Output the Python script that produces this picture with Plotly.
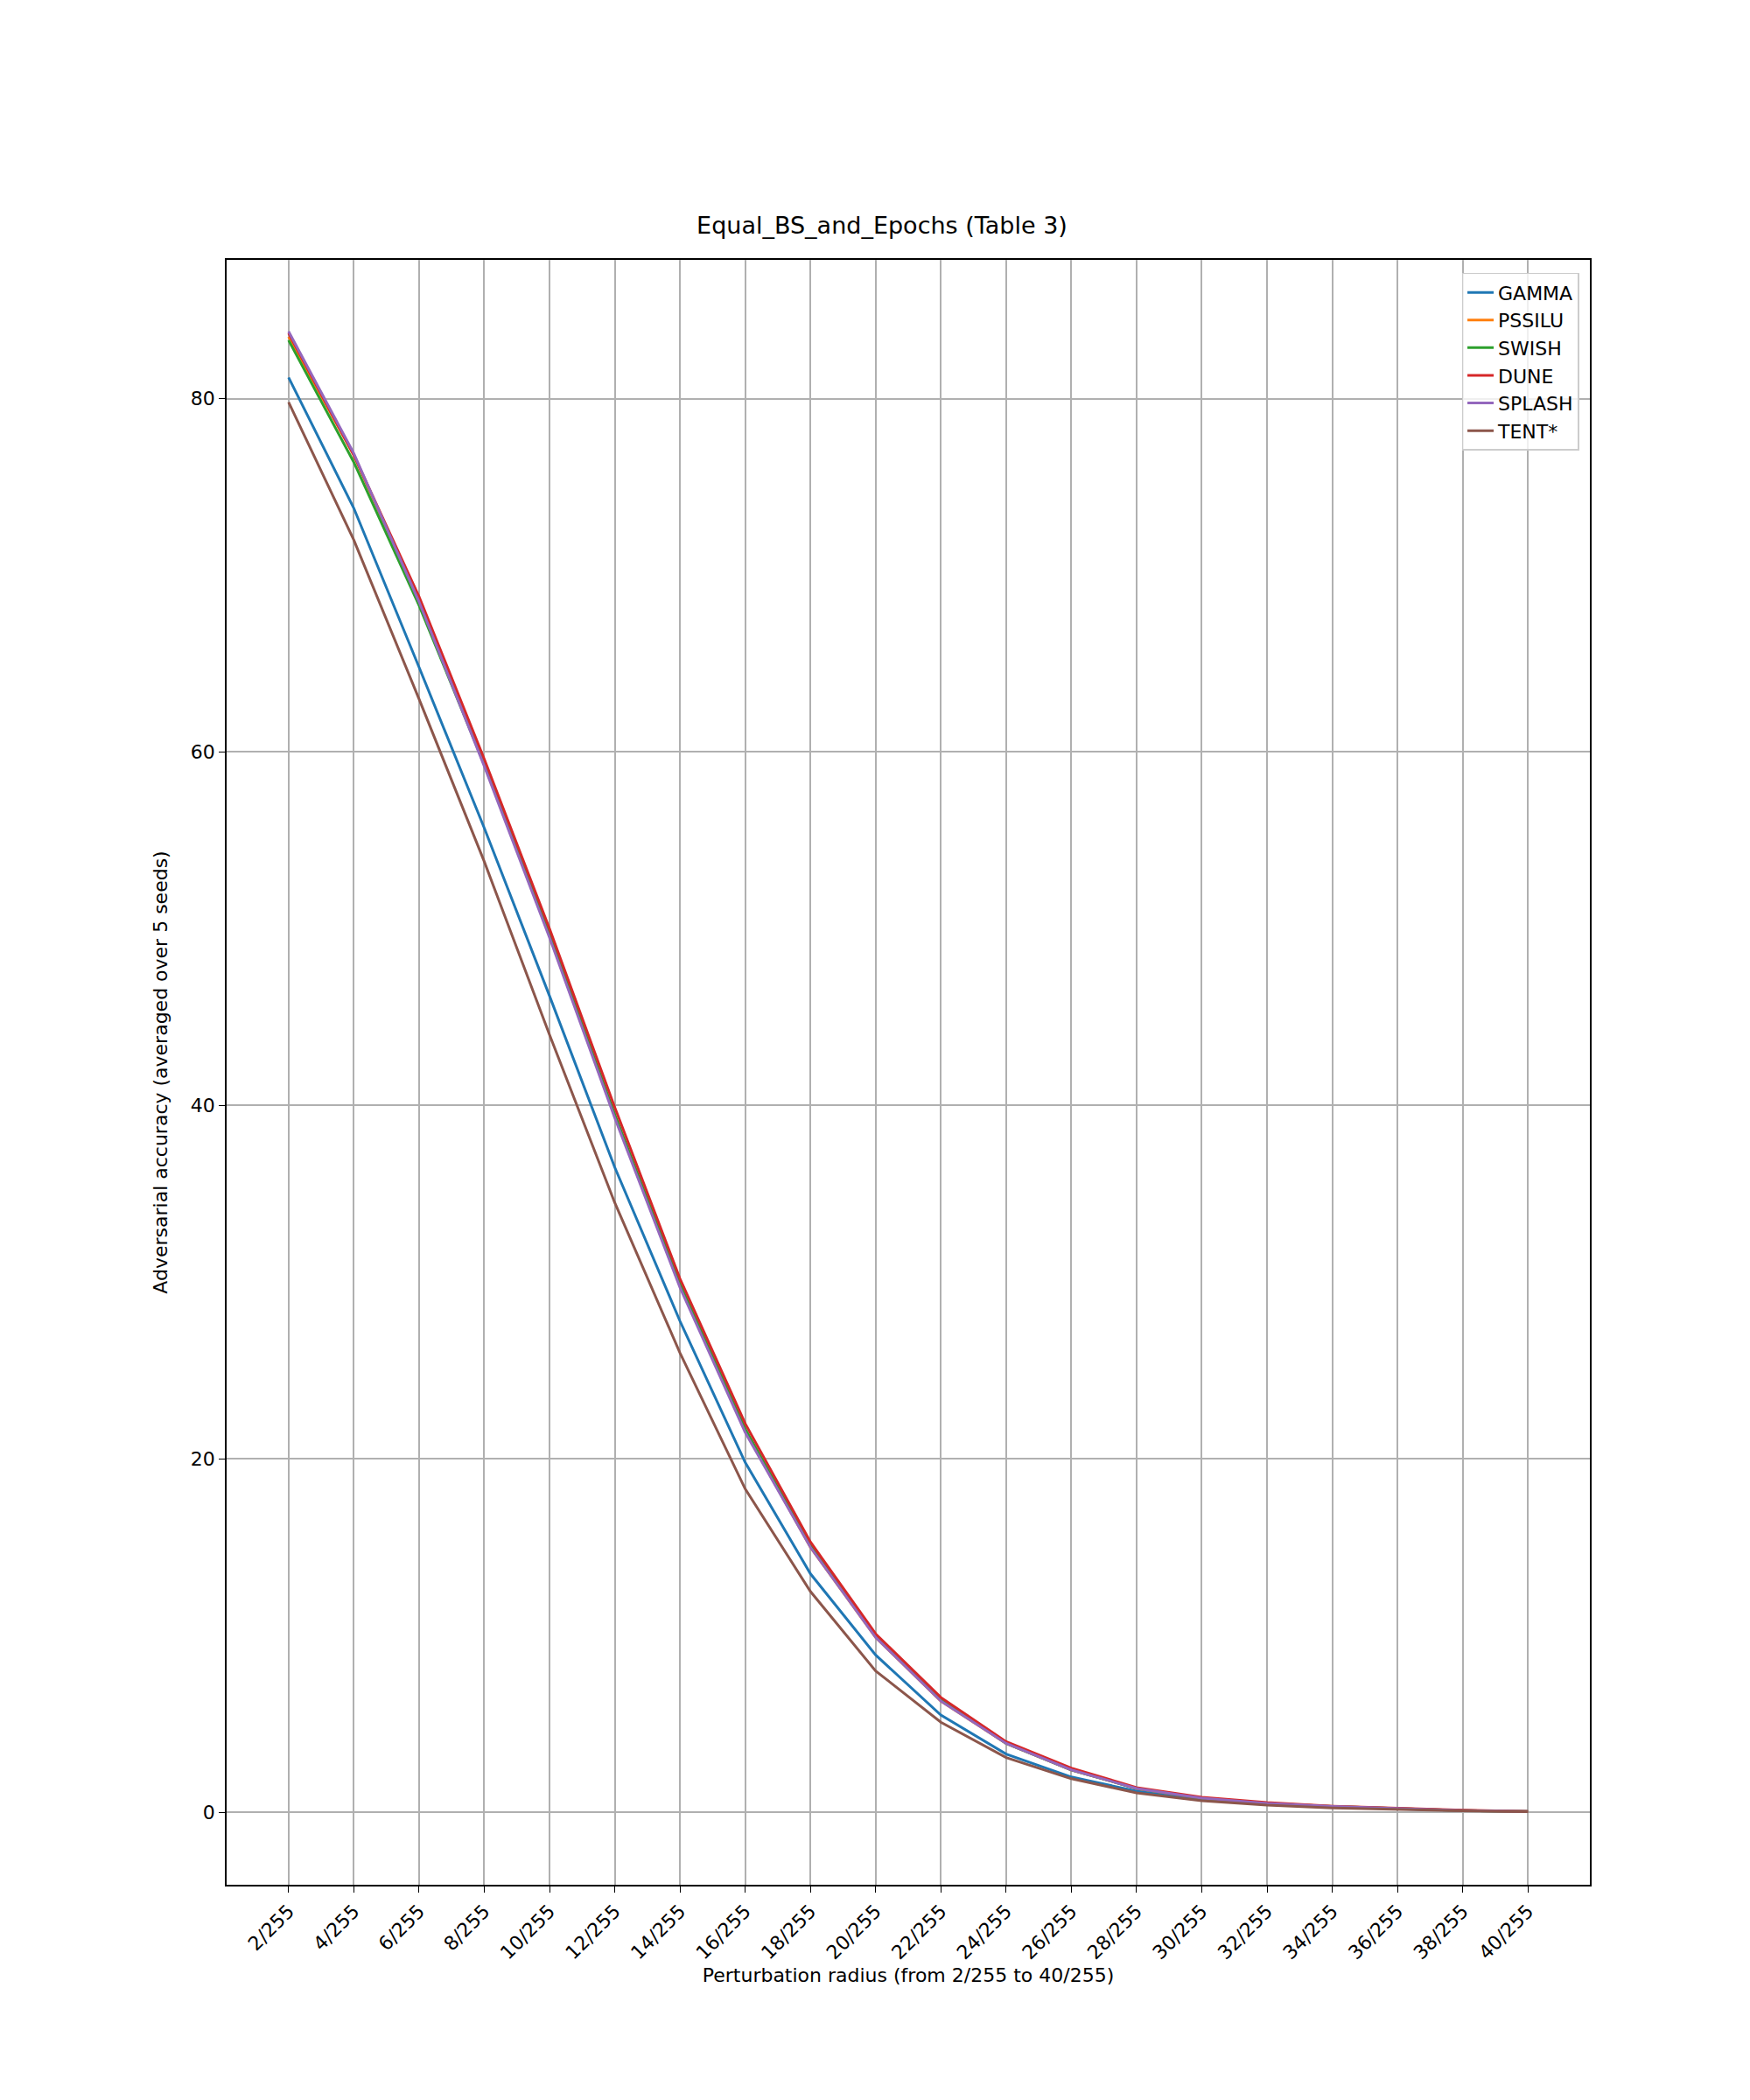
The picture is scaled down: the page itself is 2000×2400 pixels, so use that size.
import plotly.graph_objects as go

radius = list(range(2, 41, 2))
radius_labels = [f"{r}/255" for r in radius]

gamma = [81.2, 73.8, 64.8, 55.7, 46.2, 36.5, 27.8, 19.8, 13.5, 8.9, 5.5, 3.3, 2.0, 1.2, 0.7, 0.45, 0.3, 0.2, 0.1, 0.05]
pssilu = [83.5, 76.8, 68.5, 59.3, 49.6, 39.4, 29.8, 21.6, 15.0, 9.9, 6.3, 3.9, 2.4, 1.35, 0.8, 0.5, 0.33, 0.2, 0.1, 0.05]
swish = [83.3, 76.4, 68.3, 59.3, 49.7, 39.5, 29.9, 21.7, 15.1, 10.0, 6.4, 3.9, 2.4, 1.35, 0.8, 0.5, 0.33, 0.2, 0.1, 0.05]
dune = [83.7, 76.8, 68.8, 59.6, 50.0, 39.9, 30.2, 22.0, 15.3, 10.1, 6.5, 4.0, 2.5, 1.4, 0.85, 0.55, 0.35, 0.22, 0.12, 0.05]
splash = [83.8, 76.9, 68.5, 59.2, 49.5, 39.3, 29.7, 21.5, 15.0, 9.9, 6.3, 3.9, 2.4, 1.35, 0.8, 0.5, 0.33, 0.2, 0.1, 0.05]
tent = [79.8, 72.0, 63.0, 53.8, 44.0, 34.5, 26.0, 18.3, 12.5, 8.0, 5.1, 3.1, 1.9, 1.1, 0.65, 0.4, 0.25, 0.15, 0.08, 0.03]

series = [("GAMMA", gamma, "#1f77b4"), ("PSSILU", pssilu, "#ff7f0e"), ("SWISH", swish, "#2ca02c"),
          ("DUNE", dune, "#d62728"), ("SPLASH", splash, "#9467bd"), ("TENT*", tent, "#8c564b")]

fig = go.Figure()
for name, vals, color in series:
    fig.add_trace(go.Scatter(x=radius, y=vals, mode='lines', name=name, line=dict(color=color, width=3)))

axis_common = dict(showgrid=True, gridcolor='#b0b0b0', gridwidth=1.5, showline=True, linecolor='black',
                   linewidth=1.5, mirror=True, ticks='outside', ticklen=7, tickcolor='black', zeroline=False,
                   tickfont=dict(size=22, color='black'))

fig.update_layout(
    width=2000, height=2400, plot_bgcolor='white', paper_bgcolor='white',
    font=dict(family='DejaVu Sans', size=22, color='black'),
    margin=dict(l=251, r=191, t=289, b=254),
    title=dict(text='Equal_BS_and_Epochs (Table 3)', x=0.5, xanchor='center', y=0.892, yanchor='bottom',
               font=dict(size=27)),
    xaxis=dict(range=[0.1, 41.9], tickvals=radius, ticktext=radius_labels, tickangle=-45,
               title=dict(text='Perturbation radius (from 2/255 to 40/255)', font=dict(size=22), standoff=6),
               **axis_common),
    yaxis=dict(range=[-4.1, 87.85], tickvals=[0, 20, 40, 60, 80],
               title=dict(text='Adversarial accuracy (averaged over 5 seeds)', font=dict(size=22), standoff=20),
               **axis_common),
    legend=dict(x=0.992, y=0.992, xanchor='right', yanchor='top', bgcolor='rgba(255,255,255,0.8)',
                bordercolor='#cccccc', borderwidth=1.5, font=dict(size=22), tracegroupgap=0),
)

fig.write_html("out.html")
